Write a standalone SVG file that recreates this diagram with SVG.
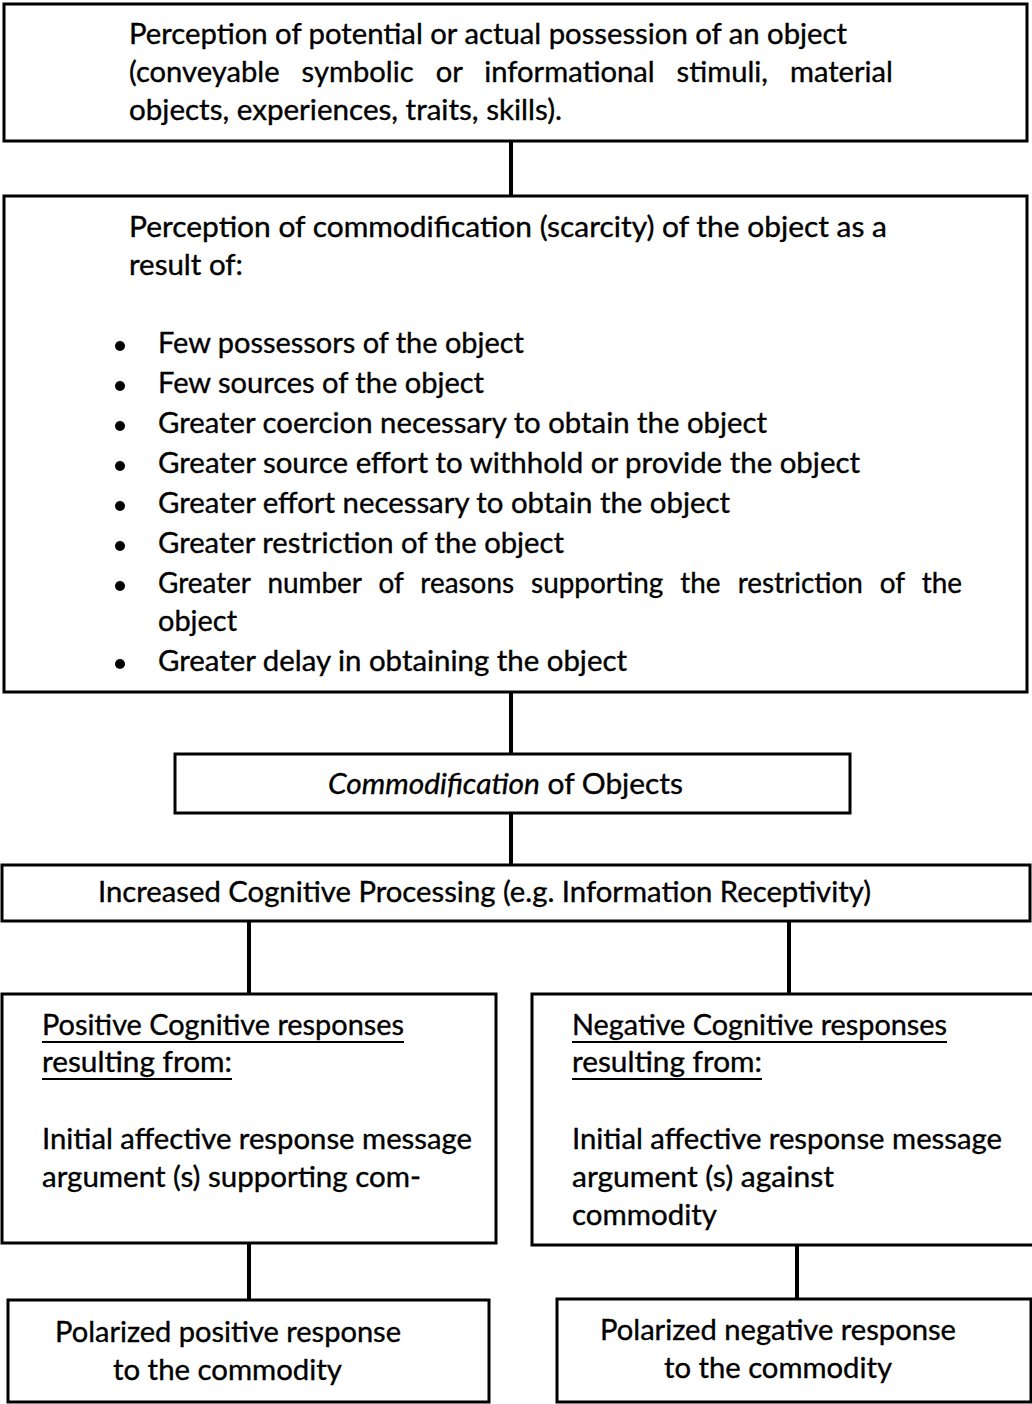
<svg xmlns="http://www.w3.org/2000/svg" width="1032" height="1404" viewBox="0 0 1032 1404">
  <style>
    .box { fill: #ffffff; stroke: #000000; stroke-width: 3; }
    .link { stroke: #000000; stroke-width: 4; fill: none; }
    .t { font-family: Lato, "Liberation Sans", sans-serif; font-size: 28px; fill: #000000; stroke: #000000; stroke-width: 0.35px; }
    .ul { stroke: #000000; stroke-width: 2; }
    .dot { fill: #000000; }
  </style>

  <rect width="1032" height="1404" fill="#ffffff"/>

  <!-- connectors -->
  <g id="connectors">
    <line class="link" x1="511" y1="142" x2="511" y2="196"/>
    <line class="link" x1="511" y1="692" x2="511" y2="754"/>
    <line class="link" x1="511" y1="813" x2="511" y2="865"/>
    <line class="link" x1="249" y1="921" x2="249" y2="994"/>
    <line class="link" x1="789" y1="921" x2="789" y2="994"/>
    <line class="link" x1="249" y1="1243" x2="249" y2="1300"/>
    <line class="link" x1="797" y1="1245" x2="797" y2="1299"/>
  </g>

  <!-- possession of an object -->
  <g id="possession">
    <rect class="box" x="4" y="4" width="1023" height="137"/>
    <text class="t" x="129" y="44" textLength="718" lengthAdjust="spacingAndGlyphs">Perception of potential or actual possession of an object</text>
    <text class="t" x="129" y="82" textLength="764" lengthAdjust="spacingAndGlyphs" word-spacing="14">(conveyable symbolic or informational stimuli, material</text>
    <text class="t" x="129" y="120" textLength="433" lengthAdjust="spacingAndGlyphs">objects, experiences, traits, skills).</text>
  </g>

  <!-- perception of scarcity -->
  <g id="scarcity">
    <rect class="box" x="4" y="196" width="1023" height="496"/>
    <text class="t" x="129" y="237" textLength="758" lengthAdjust="spacingAndGlyphs">Perception of commodification (scarcity) of the object as a</text>
    <text class="t" x="129" y="275" textLength="114" lengthAdjust="spacingAndGlyphs">result of:</text>
    <circle class="dot" cx="120" cy="346" r="5"/>
    <text class="t" x="158" y="353" textLength="366" lengthAdjust="spacingAndGlyphs">Few possessors of the object</text>
    <circle class="dot" cx="120" cy="386" r="5"/>
    <text class="t" x="158" y="393" textLength="326" lengthAdjust="spacingAndGlyphs">Few sources of the object</text>
    <circle class="dot" cx="120" cy="426" r="5"/>
    <text class="t" x="158" y="433" textLength="609" lengthAdjust="spacingAndGlyphs">Greater coercion necessary to obtain the object</text>
    <circle class="dot" cx="120" cy="466" r="5"/>
    <text class="t" x="158" y="473" textLength="702" lengthAdjust="spacingAndGlyphs">Greater source effort to withhold or provide the object</text>
    <circle class="dot" cx="120" cy="506" r="5"/>
    <text class="t" x="158" y="513" textLength="572" lengthAdjust="spacingAndGlyphs">Greater effort necessary to obtain the object</text>
    <circle class="dot" cx="120" cy="546" r="5"/>
    <text class="t" x="158" y="553" textLength="406" lengthAdjust="spacingAndGlyphs">Greater restriction of the object</text>
    <circle class="dot" cx="120" cy="586" r="5"/>
    <text class="t" x="158" y="593" textLength="804" lengthAdjust="spacingAndGlyphs" word-spacing="10">Greater number of reasons supporting the restriction of the</text>
    <text class="t" x="158" y="631" textLength="79" lengthAdjust="spacingAndGlyphs">object</text>
    <circle class="dot" cx="120" cy="664" r="5"/>
    <text class="t" x="158" y="671" textLength="469" lengthAdjust="spacingAndGlyphs">Greater delay in obtaining the object</text>
  </g>

  <!-- commodification -->
  <g id="commodification">
    <rect class="box" x="175" y="754" width="675" height="59"/>
    <text class="t" x="328" y="794" textLength="355" lengthAdjust="spacingAndGlyphs"><tspan font-style="italic">Commodification</tspan> of Objects</text>
  </g>

  <!-- cognitive processing -->
  <g id="processing">
    <rect class="box" x="2" y="865" width="1028" height="56"/>
    <text class="t" x="98" y="902" textLength="773" lengthAdjust="spacingAndGlyphs">Increased Cognitive Processing (e.g. Information Receptivity)</text>
  </g>

  <!-- positive responses -->
  <g id="positive-responses">
    <rect class="box" x="2" y="994" width="494" height="249"/>
    <text class="t" x="42" y="1035" textLength="362" lengthAdjust="spacingAndGlyphs">Positive Cognitive responses</text>
    <line class="ul" x1="42" y1="1042" x2="404" y2="1042"/>
    <text class="t" x="42" y="1072" textLength="190" lengthAdjust="spacingAndGlyphs">resulting from:</text>
    <line class="ul" x1="42" y1="1079" x2="232" y2="1079"/>
    <text class="t" x="42" y="1149" textLength="430" lengthAdjust="spacingAndGlyphs">Initial affective response message</text>
    <text class="t" x="42" y="1187" textLength="379" lengthAdjust="spacingAndGlyphs">argument (s) supporting com-</text>
  </g>

  <!-- negative responses -->
  <g id="negative-responses">
    <rect class="box" x="532" y="994" width="503" height="251"/>
    <text class="t" x="572" y="1035" textLength="375" lengthAdjust="spacingAndGlyphs">Negative Cognitive responses</text>
    <line class="ul" x1="572" y1="1042" x2="947" y2="1042"/>
    <text class="t" x="572" y="1072" textLength="190" lengthAdjust="spacingAndGlyphs">resulting from:</text>
    <line class="ul" x1="572" y1="1079" x2="762" y2="1079"/>
    <text class="t" x="572" y="1149" textLength="430" lengthAdjust="spacingAndGlyphs">Initial affective response message</text>
    <text class="t" x="572" y="1187" textLength="262" lengthAdjust="spacingAndGlyphs">argument (s) against</text>
    <text class="t" x="572" y="1225" textLength="145" lengthAdjust="spacingAndGlyphs">commodity</text>
  </g>

  <!-- polarized positive -->
  <g id="polarized-positive">
    <rect class="box" x="8" y="1300" width="481" height="102"/>
    <text class="t" x="55" y="1342" textLength="346" lengthAdjust="spacingAndGlyphs">Polarized positive response</text>
    <text class="t" x="113" y="1380" textLength="229" lengthAdjust="spacingAndGlyphs">to the commodity</text>
  </g>

  <!-- polarized negative -->
  <g id="polarized-negative">
    <rect class="box" x="557" y="1299" width="474" height="103"/>
    <text class="t" x="600" y="1340" textLength="356" lengthAdjust="spacingAndGlyphs">Polarized negative response</text>
    <text class="t" x="664" y="1378" textLength="228" lengthAdjust="spacingAndGlyphs">to the commodity</text>
  </g>
</svg>
